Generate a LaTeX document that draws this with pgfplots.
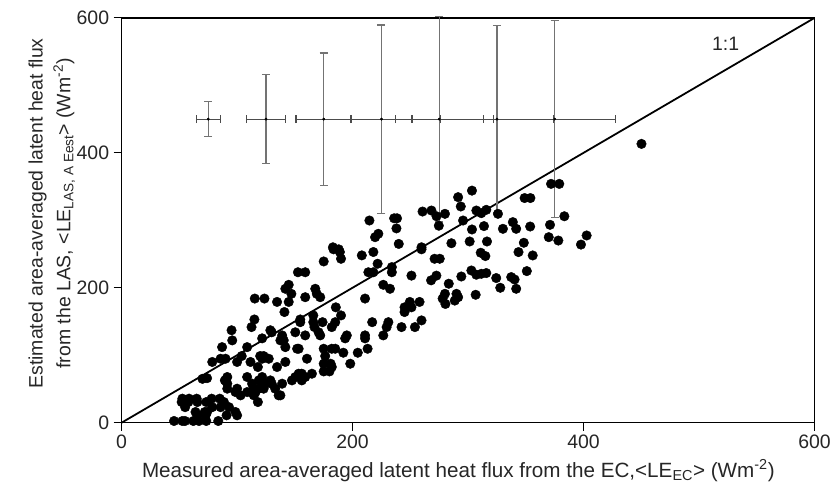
\documentclass[border=0pt]{standalone}
\usepackage{fontspec}
\setmainfont{Liberation Sans}
\usepackage{pgfplots}
\pgfplotsset{compat=1.18}
\usepackage{pgfplotstable}
\pgfplotstableread{
x y
45.4 2.5
52.6 2.5
54.9 2.5
62.1 2.5
67 2.5
73.3 2.5
83.7 2.5
65.9 10.9
72.8 10.9
90.9 10.9
100 10.9
64 15.8
72 15.8
74 15.8
98.6 15.8
55 23
78.5 23
85.7 23
93 23
52 30.6
57.8 30.6
65.6 30.6
73.3 30.6
88.6 30.6
118 30.6
52.6 35.6
58.4 35.6
65 35.6
78 35.6
85 35.6
114.5 40.5
136 40.5
137.5 40.5
103 40.5
111.6 45.4
116 45.4
108.7 45.4
98.6 45.4
91.5 50.4
100 50.4
114.5 50.4
118.8 50.4
123 50.4
133 50.4
91.5 57.8
113 57.8
121.7 57.8
124.5 57.8
130 57.8
139 57.8
89.4 62.7
118.8 62.7
128.8 62.7
147.5 62.7
156 62.7
70 65
74 66
91.5 67.7
108.7 67.7
121.7 67.7
150.4 67.7
159 67.7
156 72.6
164.8 72.6
153.3 72.6
175 76
180 76
118 82.5
134.6 82.5
182 82.5
175 87.4
181 87.4
198 87.4
78.5 90
100 90
111.6 90
141.8 90
85.7 94.8
90 94.8
121.7 94.8
127.4 94.8
160.5 94.8
104 98.8
120 98.8
123 98.8
176.3 98.8
192 103.7
204.5 103.7
152 109.6
153.3 109.6
175 109.6
182 109.6
185 109.6
213 109.6
87 112
108.7 112
141.8 112
95.8 122
137.5 122
140.4 122
121.7 125
193.6 125
210.8 125
139 129.4
159 129.4
172 129.4
195 129.4
210.8 129.4
226.6 129.4
130 134
150.4 134
170.6 134
95.2 137
128.8 137
112.5 141.7
167 141.7
182 141.7
229.5 141.7
242.4 141.7
254 141.7
154.7 149
166 149
174 149
185 149
217 149
231 149
259.7 151.6
115 153
154.7 153
166 159
190 159
141 164
245 164
185.5 171
245 171
251 171
134.6 179
144.7 179
249.6 179
258 179
280.4 176
115.3 184
123.7 184
210.8 184
278 184
159 186
172 186
147 191
169 191
280 191
141.8 198.5
167.7 198.5
232.4 198.5
144.7 204.4
226.6 204.4
268 211
251 218
272.6 218
152.7 223
159 223
213.7 223
218 223
234 223
234 230.6
221.7 235.6
175 239
190 243
271 243
275.5 243
208 248
189 253
218 253
183.5 257
188 257
259.7 257
260.6 313
268.3 314.5
272.7 306
280 309.6
274.7 292
214.6 299.7
236 303
238.5 303
238 288
222.3 280
219.5 275
240 265
183 260
259.7 260
291.4 334.3
303.4 344
293.7 320.5
307.2 314.5
311.5 310.6
315.8 315.5
325.9 309.6
295.7 299.7
303.4 286.4
313.8 291.4
338.8 297.3
341.7 287.4
330.2 287.4
353.8 290.8
349 333
354 333
371.9 354
379 354
383.4 306
371 293.3
369.9 275
378.2 270
397.8 264
402.7 277.5
301.4 268.6
316.4 268.6
285.6 266
348.3 266.7
311 251.9
315 247
343.7 252.9
356 247.9
302.9 225.6
307.2 219.3
311.5 220.7
315.8 221.8
294.2 216.7
283.3 206
324.4 214.4
337.4 215.8
340.3 212.3
350.9 224.7
327.9 200
341.7 198.5
306.6 189.6
290 191
291.4 186
288.5 181
450.2 413.3
}\scatterdata
\begin{document}
\begin{tikzpicture}
\begin{axis}[
  scale only axis,
  width=695pt, height=406pt,
  xmin=0, xmax=600, ymin=0, ymax=600,
  xtick={0,200,400,600}, ytick={0,200,400,600},
  tick align=outside, xtick pos=bottom, ytick pos=left,
  major tick length=8pt,
  tick style={black, line width=1pt},
  axis line style={black, line width=1.6pt},
  /pgf/number format/assume math mode=true,
  tick label style={font=\fontsize{19.5}{22}\selectfont, text=black!85},
  xticklabel style={yshift=-1pt},
  yticklabel style={xshift=-1pt},
  xlabel={Measured area-averaged latent heat flux from the EC,<LE\textsubscript{EC}> (Wm\textsuperscript{-2})},
  ylabel={\begin{tabular}{c}Estimated area-averaged latent heat flux\\[4pt] from the LAS, <LE\textsubscript{LAS, A Eest}> (Wm\textsuperscript{-2})\end{tabular}},
  xlabel style={at={(rel axis cs:0.486,-0.118)}, anchor=center, font=\fontsize{20.7}{24}\selectfont, text=black!85},
  ylabel style={at={(rel axis cs:-0.1007,0.517)}, anchor=center, font=\fontsize{19.5}{23}\selectfont, text=black!85},
  clip=false,
]
\path (rel axis cs:0,0) ++(-122pt,-70pt) (rel axis cs:1,1) ++(17pt,18pt);
\addplot[black, line width=1.8pt, no marks] coordinates {(0,0) (600,600)};
\node[font=\fontsize{19.5}{22}\selectfont, text=black!85] at (axis cs:523,562) {1:1};
\addplot[only marks, mark=*, mark size=4.8pt, black] table {\scatterdata};
% vertical error bars
\addplot[only marks, mark=*, mark size=1pt, black!70,
  error bars/.cd, y dir=both, y explicit,
  error bar style={black!55, line width=1.2pt},
  error mark options={rotate=90, black!55, mark size=4pt, line width=1.2pt}]
  coordinates {
  (75,450) +- (0,26)
  (125,450) +- (0,66)
  (175,450) +- (0,98)
  (225,450) +- (0,139.5)
  (275,450) +- (0,152)
  (325,450) +- (0,139)
  (375,450) +- (0,146)
  };
% horizontal error bars
\addplot[only marks, mark=*, mark size=1.2pt, black,
  error bars/.cd, x dir=both, x explicit,
  error bar style={black!70, line width=1.1pt},
  error mark options={rotate=90, black!70, mark size=4pt, line width=1.1pt}]
  coordinates {
  (75,450) +- (10.5,0)
  (125,450) +- (17,0)
  (175,450) +- (24,0)
  (225,450) +- (26.5,0)
  (275,450) +- (38,0)
  (325,450) +- (49,0)
  (375,450) +- (53,0)
  };
\end{axis}
\end{tikzpicture}
\end{document}
